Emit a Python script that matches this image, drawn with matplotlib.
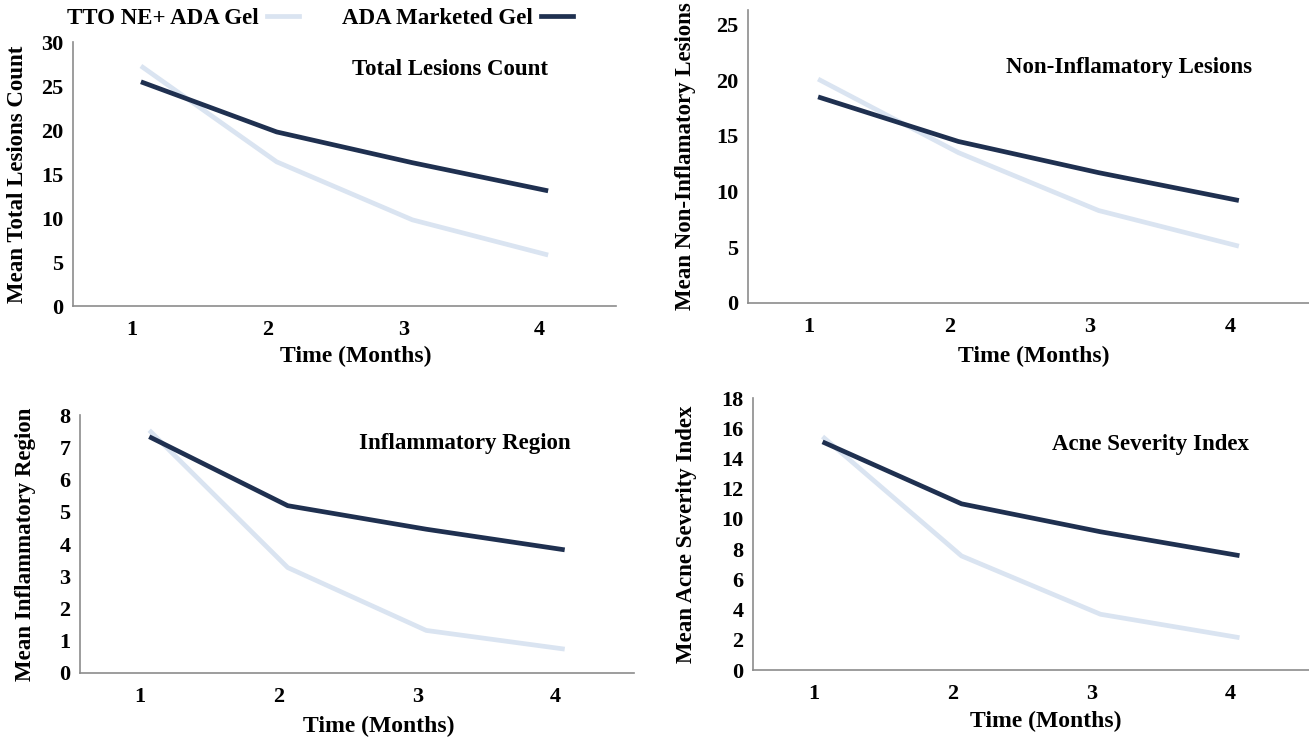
import matplotlib
matplotlib.use("Agg")
import matplotlib.pyplot as plt
import matplotlib.transforms as mtrans
from matplotlib.lines import Line2D

months = [1, 2, 3, 4]

# Total lesions
total_tto = [27.3, 16.4, 9.8, 5.8]
total_ada = [25.5, 19.8, 16.3, 13.1]
# Non-inflammatory lesions
noninf_tto = [20.1, 13.5, 8.3, 5.1]
noninf_ada = [18.5, 14.5, 11.7, 9.2]
# Inflammatory region
inf_tto = [7.53, 3.27, 1.32, 0.74]
inf_ada = [7.33, 5.19, 4.46, 3.82]
# Acne severity index
asi_tto = [15.45, 7.55, 3.69, 2.14]
asi_ada = [15.1, 11.0, 9.15, 7.57]

light = "#dae4f1"
dark = "#1f3050"

plt.rcParams["font.family"] = ["Liberation Serif", "DejaVu Serif"]
plt.rcParams["font.weight"] = "bold"

fig = plt.figure(figsize=(13.09, 7.41), dpi=100)

panels = [
    # rect, tto, ada, ylim, yticks, ylabel, title, title pos, ylabel x, xlabel pos
    ([0.0558, 0.587, 0.4148, 0.356], total_tto, total_ada, 30, range(0, 31, 5),
     "Mean Total Lesions Count", "Total Lesions Count", (0.694, 0.898), -0.103, (0.52, -0.193)),
    ([0.5714, 0.5911, 0.4286, 0.3954], noninf_tto, noninf_ada, 26.3, range(0, 26, 5),
     "Mean Non-Inflamatory Lesions", "Non-Inflamatory Lesions", (0.679, 0.805), -0.112, (0.51, -0.184)),
    ([0.0611, 0.0918, 0.4232, 0.348], inf_tto, inf_ada, 8, range(0, 9),
     "Mean Inflammatory Region", "Inflammatory Region", (0.695, 0.888), -0.099, (0.54, -0.209)),
    ([0.5753, 0.0958, 0.4247, 0.367], asi_tto, asi_ada, 18, range(0, 19, 2),
     "Mean Acne Severity Index", "Acne Severity Index", (0.714, 0.831), -0.119, (0.527, -0.19)),
]

shift = mtrans.ScaledTranslation(-0.09, 0, fig.dpi_scale_trans)

for rect, tto, ada, ymax, yt, ylab, title, tpos, ylx, xlpos in panels:
    ax = fig.add_axes(rect)
    ax.plot(months, tto, color=light, lw=3.4, solid_capstyle="butt")
    ax.plot(months, ada, color=dark, lw=3.4, solid_capstyle="butt")
    ax.set_xlim(0.5, 4.5)
    ax.set_ylim(0, ymax)
    ax.set_xticks(months)
    ax.set_yticks(list(yt))
    ax.tick_params(length=0, labelsize=16, pad=7)
    ax.tick_params(axis="x", pad=10)
    for lab in ax.get_xticklabels():
        lab.set_transform(lab.get_transform() + shift)
    for s in ["top", "right"]:
        ax.spines[s].set_visible(False)
    for s in ["left", "bottom"]:
        ax.spines[s].set_color("#8c8c8c")
        ax.spines[s].set_linewidth(1.2)
    ax.set_ylabel(ylab, fontsize=16.5, fontweight="bold", va="center")
    ax.yaxis.set_label_coords(ylx, 0.5)
    ax.set_xlabel("Time (Months)", fontsize=17, fontweight="bold", va="center")
    ax.xaxis.set_label_coords(*xlpos)
    ax.text(tpos[0], tpos[1], title, transform=ax.transAxes, ha="center", va="center",
            fontsize=16.5, fontweight="bold")

handles = [Line2D([], [], color=light, lw=3.4), Line2D([], [], color=dark, lw=3.4)]
fig.legend(handles, ["TTO NE+ ADA Gel", "ADA Marketed Gel"], loc="center",
           bbox_to_anchor=(320 / 1309, 1 - 18 / 741), ncol=2, frameon=False,
           markerfirst=False, handlelength=1.4, columnspacing=1.9, handletextpad=0.35,
           prop={"size": 16.5, "weight": "bold"})

fig.savefig("out.png", dpi=100)
